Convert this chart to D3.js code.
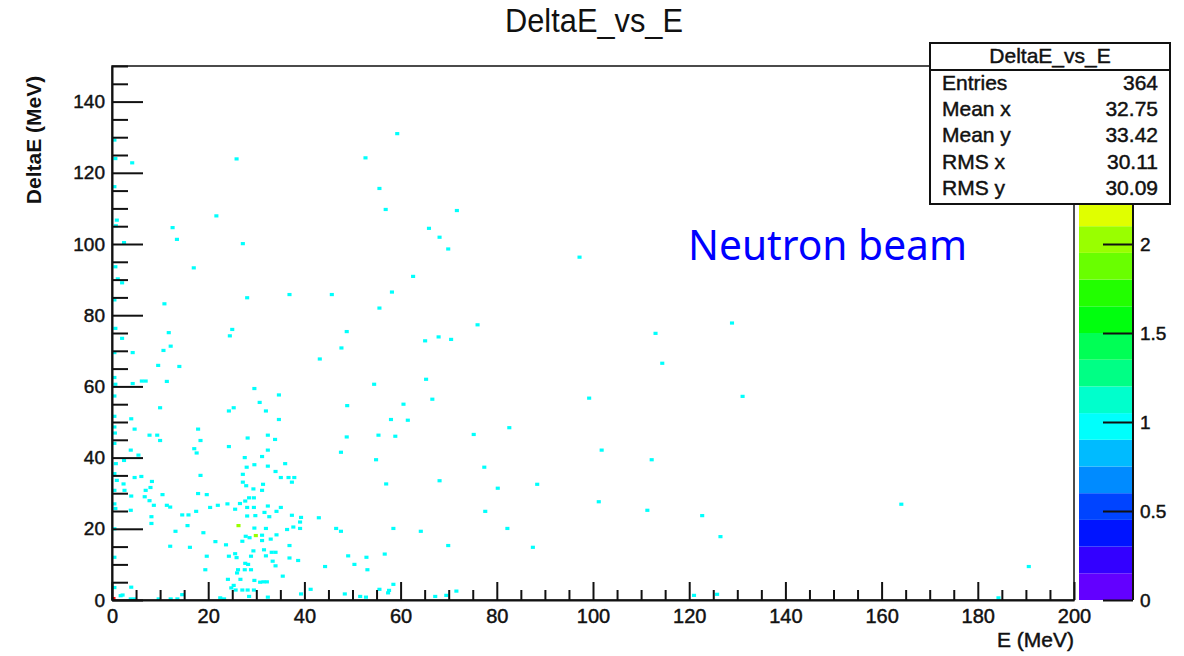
<!DOCTYPE html>
<html>
<head>
<meta charset="utf-8">
<script src="https://cdn.jsdelivr.net/npm/d3@7"></script>
<style>
  body { margin: 0; background: #fff; }
  text { font-family: "Liberation Sans", Arial, sans-serif; fill: #111; }
  .heavy { stroke: #111; stroke-width: 0.45px; }
</style>
</head>
<body>
<div id="chart"></div>
<script>
// filled bins (content 1): E and DeltaE in MeV
const hitE = [
  59.3, 25.9, 52.7, 4.2, 0.7, 0.5, 55.6, 56.9, 0.5, 21.7,
  1.0, 0.8, 12.6, 13.5, 27.2, 2.5, 0.7, 17.0, 62.6, 1.2,
  2.1, 0.5, 10.9, 28.1, 36.9, 45.7, 58.2, 55.6, 0.7, 11.8,
  2.1, 25.0, 24.5, 48.8, 47.7, 12.2, 10.7, 4.3, 0.5, 43.2,
  14.0, 9.6, 0.5, 0.7, 4.3, 6.2, 7.0, 11.4, 29.6, 54.5,
  71.7, 65.9, 68.1, 69.9, 97.2, 76.0, 65.1, 67.9, 70.5, 113.0,
  128.9, 114.4, 65.3, 66.6, 60.6, 61.5, 99.2, 75.2, 82.6, 101.8,
  112.2, 77.4, 68.1, 80.2, 88.4, 101.2, 111.3, 122.7, 126.5, 77.6,
  64.2, 82.2, 69.9, 87.5, 69.5, 71.6, 121.0, 125.8, 131.1, 164.1,
  190.6, 184.3, 34.7, 10.0, 30.7, 25.3, 24.3, 32.0, 48.9, 4.0,
  34.7, 58.0, 4.7, 17.9, 0.5, 7.8, 9.4, 32.4, 28.2, 33.9,
  48.8, 55.4, 58.9, 0.6, 10.0, 18.4, 24.3, 17.1, 17.6, 3.9,
  5.5, 32.4, 31.2, 47.6, 27.6, 54.9, 2.5, 0.8, 36.0, 28.0,
  29.6, 32.4, 34.0, 27.2, 6.1, 4.7, 18.4, 35.1, 36.7, 37.9,
  37.4, 0.5, 1.0, 8.3, 27.2, 2.4, 27.9, 31.4, 57.0, 7.0,
  8.0, 29.4, 31.2, 0.5, 2.6, 17.9, 19.7, 10.5, 4.0, 6.8,
  28.5, 29.5, 27.7, 7.8, 0.5, 8.7, 11.4, 12.1, 20.4, 22.0,
  24.0, 26.6, 28.1, 29.5, 32.4, 35.1, 25.6, 0.7, 3.9, 17.5,
  31.7, 34.2, 37.4, 8.2, 14.6, 15.9, 28.1, 29.8, 32.7, 39.3,
  43.0, 8.2, 15.7, 29.6, 32.0, 39.1, 37.7, 36.4, 39.1,
  46.6, 47.6, 58.5, 13.2, 19.0, 27.8, 28.6, 31.2, 31.2,
  33.0, 34.2, 27.1, 21.5, 23.7, 12.1, 16.2, 36.9, 29.4, 31.6,
  33.2, 34.0, 19.7, 24.3, 25.6, 25.9, 28.9, 32.0, 36.9, 38.7,
  49.1, 52.9, 56.7, 33.4, 27.7, 28.3, 34.0, 50.4, 19.4, 26.2,
  26.0, 27.6, 28.9, 44.3, 53.1, 35.5, 24.1, 26.7, 29.6, 30.8,
  31.5, 32.2, 25.3, 58.5, 57.6, 57.4, 4.0, 41.3, 25.7, 27.1,
  28.2, 29.5, 2.2, 3.9, 4.7, 9.7, 12.2, 13.6, 23.3, 28.5,
  32.4, 39.3, 48.4, 51.6, 1.8, 14.6, 22.5, 52.8, 55.6, 67.2,
  24.8, 0.5, 0.5, 0.5, 0.5, 0.5, 0.5
];
const hitDE = [
  131.0, 123.9, 124.2, 122.8, 124.0, 129.2, 115.6, 109.7, 116.1, 107.9,
  106.7, 105.1, 104.6, 101.3, 100.1, 100.4, 93.6, 93.3, 90.9, 90.2,
  89.1, 84.3, 83.2, 84.9, 85.8, 85.8, 86.5, 82.0, 76.3, 75.1,
  73.5, 76.0, 74.2, 75.4, 70.8, 71.3, 70.1, 69.5, 69.5, 67.7,
  65.6, 65.9, 62.5, 60.6, 60.8, 61.5, 61.5, 61.4, 59.4, 60.6,
  109.4, 104.4, 101.9, 98.6, 96.3, 77.3, 72.8, 73.9, 73.2, 74.9,
  77.8, 66.5, 62.0, 56.4, 55.0, 50.5, 56.7, 46.5, 48.4, 42.1,
  39.4, 37.3, 33.5, 31.4, 32.5, 27.6, 25.2, 23.7, 17.8, 24.9,
  19.3, 20.1, 15.3, 14.8, 1.3, 2.5, 1.3, 1.6, 57.2, 26.9,
  9.4, 0.6, 57.6, 54.0, 55.5, 54.0, 53.1, 53.1, 54.6, 50.9,
  50.7, 50.7, 48.0, 48.0, 48.6, 46.3, 46.3, 46.3, 45.5, 45.1,
  45.8, 46.3, 46.0, 46.9, 44.8, 44.8, 43.1, 42.5, 41.3, 42.1,
  40.7, 42.1, 40.3, 41.5, 40.0, 39.4, 39.2, 38.3, 38.3, 37.3,
  38.0, 37.6, 36.1, 35.3, 34.7, 34.4, 35.0, 34.4, 34.4, 34.4,
  33.1, 35.5, 33.6, 33.3, 33.1, 32.6, 32.1, 32.5, 32.6, 30.8,
  31.6, 31.2, 30.8, 30.8, 30.8, 29.9, 29.6, 29.6, 29.2, 29.0,
  28.7, 28.7, 27.8, 27.9, 27.0, 26.6, 26.6, 26.1, 26.0, 26.6,
  27.0, 27.1, 26.0, 26.0, 26.4, 26.0, 25.5, 25.7, 25.2, 24.9,
  24.6, 24.9, 23.8, 23.4, 23.9, 23.9, 23.6, 23.7, 23.4, 23.2,
  23.1, 21.5, 20.9, 20.2, 20.1, 21.9, 20.5, 19.8, 20.1,
  20.1, 19.3, 20.1, 19.3, 18.9, 17.9, 17.5, 16.7, 18.2,
  17.1, 18.3, 16.5, 16.4, 15.5, 15.1, 14.8, 15.3, 13.8, 14.1,
  13.4, 13.4, 12.3, 12.3, 13.0, 11.9, 12.3, 12.4, 11.8, 11.1,
  12.4, 12.0, 12.9, 10.9, 10.3, 10.0, 9.6, 10.0, 8.5, 8.5,
  7.6, 8.5, 8.5, 9.4, 8.5, 6.7, 5.8, 5.8, 5.5, 5.0,
  5.1, 5.1, 4.1, 4.4, 2.7, 2.0, 3.6, 3.0, 2.8, 2.8,
  2.8, 2.8, 1.4, 0.3, 0.3, 0.3, 0.3, 0.3, 0.3, 1.0,
  0.8, 1.7, 1.7, 1.0, 1.2, 1.5, 0.6, 0.8, 3.0, 1.0,
  3.4, 20.0, 57.3, 51.6, 44.0, 12.0, 3.5
];
// bins with more than one entry
const hotE = [26.3, 29.9, 0.3];
const hotDE = [20.9, 18.1, 0.4];
const hotCount = [2, 2, 3];

const xMajor = [0, 20, 40, 60, 80, 100, 120, 140, 160, 180, 200];
const yMajor = [0, 20, 40, 60, 80, 100, 120, 140];
const zTicks = [0, 0.5, 1, 1.5, 2];

const statLabels = ["Entries", "Mean x", "Mean y", "RMS x", "RMS y"];
const statValues = ["364", "32.75", "33.42", "30.11", "30.09"];

const W = 1184, H = 656;
const frameL = 112, frameR = 1074, frameT = 66, frameB = 600;

const svg = d3.select("#chart").append("svg")
    .attr("width", W).attr("height", H);

const x = d3.scaleLinear().domain([0, 200]).range([frameL, frameR]);
const y = d3.scaleLinear().domain([0, 150]).range([frameB, frameT]);
const z = d3.scaleLinear().domain([0, 3]).range([frameB, frameT]);

// ROOT style rainbow: 20 contour levels over 50 palette colours
const nLevels = 20;
function levelColor(k) {
    const idx = Math.floor((k + 0.99) * 50 / nLevels);
    return d3.hsl(280 - (idx + 1) * 5.6, 1, 0.5).formatHex();
}
function colorOf(c) {
    return levelColor(Math.min(nLevels - 1, Math.floor(c / 3 * nLevels)));
}

svg.append("clipPath").attr("id", "frame")
  .append("rect").attr("x", frameL).attr("y", frameT)
    .attr("width", frameR - frameL).attr("height", frameB - frameT);

const bins = hitE.map((e, i) => ({e: e, de: hitDE[i], n: 1}))
    .concat(hotE.map((e, i) => ({e: e, de: hotDE[i], n: hotCount[i]})));

const binW = 0.85, binH = 0.9;
svg.append("g").attr("clip-path", "url(#frame)")
  .selectAll("rect")
  .data(bins)
  .join("rect")
    .attr("x", d => x(d.e - binW / 2))
    .attr("y", d => y(d.de + binH / 2))
    .attr("width", x(binW) - x(0))
    .attr("height", y(0) - y(binH))
    .attr("fill", d => colorOf(d.n));

// frame
svg.append("rect")
    .attr("x", frameL).attr("y", frameT)
    .attr("width", frameR - frameL).attr("height", frameB - frameT)
    .attr("fill", "none").attr("stroke", "#111").attr("stroke-width", 1.5);

function styleAxis(g, size) {
    g.selectAll("path, line").attr("stroke", "#111").attr("stroke-width", 2);
    g.selectAll("text").style("font-size", size + "px").attr("fill", "#111")
        .attr("class", "heavy");
}

// y axis
const yMinor = d3.range(0, 151, 5).filter(v => v % 20 !== 0);
svg.append("g").attr("transform", `translate(${frameL},0)`)
    .call(d3.axisLeft(y).tickValues(yMinor).tickSizeInner(-16).tickSizeOuter(0).tickFormat(""))
    .call(g => g.select(".domain").remove())
    .call(g => styleAxis(g, 19));
svg.append("g").attr("transform", `translate(${frameL},0)`)
    .call(d3.axisLeft(y).tickValues(yMajor).tickSizeInner(-31).tickSizeOuter(0).tickPadding(7))
    .call(g => styleAxis(g, 19));

// x axis
const xMinor = d3.range(0, 201, 5).filter(v => v % 20 !== 0);
svg.append("g").attr("transform", `translate(0,${frameB})`)
    .call(d3.axisBottom(x).tickValues(xMinor).tickSizeInner(-10).tickSizeOuter(0).tickFormat(""))
    .call(g => g.select(".domain").remove())
    .call(g => styleAxis(g, 19));
svg.append("g").attr("transform", `translate(0,${frameB})`)
    .call(d3.axisBottom(x).tickValues(xMajor).tickSizeInner(-18).tickSizeOuter(0).tickPadding(9))
    .call(g => styleAxis(g, 20));

// colour palette
const palX = 1079, palW = 54;
svg.append("g").selectAll("rect")
  .data(d3.range(nLevels))
  .join("rect")
    .attr("x", palX)
    .attr("y", k => z((k + 1) * 3 / nLevels))
    .attr("width", palW)
    .attr("height", k => z(k * 3 / nLevels) - z((k + 1) * 3 / nLevels))
    .attr("fill", k => levelColor(k));
svg.append("g").attr("transform", `translate(${palX + palW},0)`)
    .call(d3.axisRight(z).tickValues(zTicks).tickSizeInner(-30).tickSizeOuter(0)
        .tickPadding(7).tickFormat(d => String(d)))
    .call(g => g.select(".domain").attr("d", `M0,${frameB}V${frameT}`))
    .call(g => styleAxis(g, 19));

// titles
svg.append("text")
    .attr("x", 594).attr("y", 32)
    .attr("text-anchor", "middle")
    .attr("textLength", 178).attr("lengthAdjust", "spacingAndGlyphs")
    .style("font-size", "33px")
    .text("DeltaE_vs_E");

svg.append("text")
    .attr("transform", "translate(41,140) rotate(-90)")
    .attr("text-anchor", "middle")
    .style("font-size", "21px").style("font-weight", "bold")
    .text("DeltaE (MeV)");

svg.append("text")
    .attr("x", frameR).attr("y", 647)
    .attr("text-anchor", "end")
    .attr("class", "heavy")
    .style("font-size", "21px")
    .text("E (MeV)");

svg.append("text")
    .attr("x", 688).attr("y", 260)
    .attr("textLength", 279).attr("lengthAdjust", "spacingAndGlyphs")
    .style("font-family", "'Noto Sans', 'Open Sans', sans-serif")
    .style("font-size", "41px").style("fill", "#0000ff")
    .text("Neutron beam");

// stats box
const stats = svg.append("g");
stats.append("rect")
    .attr("x", 930).attr("y", 43).attr("width", 240).attr("height", 161)
    .attr("fill", "#fff").attr("stroke", "#111").attr("stroke-width", 2);
stats.append("line")
    .attr("x1", 930).attr("x2", 1170).attr("y1", 70).attr("y2", 70)
    .attr("stroke", "#111").attr("stroke-width", 2);
stats.append("text")
    .attr("x", 1050).attr("y", 63).attr("text-anchor", "middle")
    .attr("class", "heavy")
    .style("font-size", "21px")
    .text("DeltaE_vs_E");
stats.selectAll(".lab")
  .data(statLabels)
  .join("text").attr("class", "lab heavy")
    .attr("x", 942).attr("y", (d, i) => 90 + i * 26.2)
    .style("font-size", "21px")
    .text(d => d);
stats.selectAll(".val")
  .data(statValues)
  .join("text").attr("class", "val heavy")
    .attr("x", 1158).attr("y", (d, i) => 90 + i * 26.2)
    .attr("text-anchor", "end")
    .style("font-size", "21px")
    .text(d => d);
</script>
</body>
</html>
